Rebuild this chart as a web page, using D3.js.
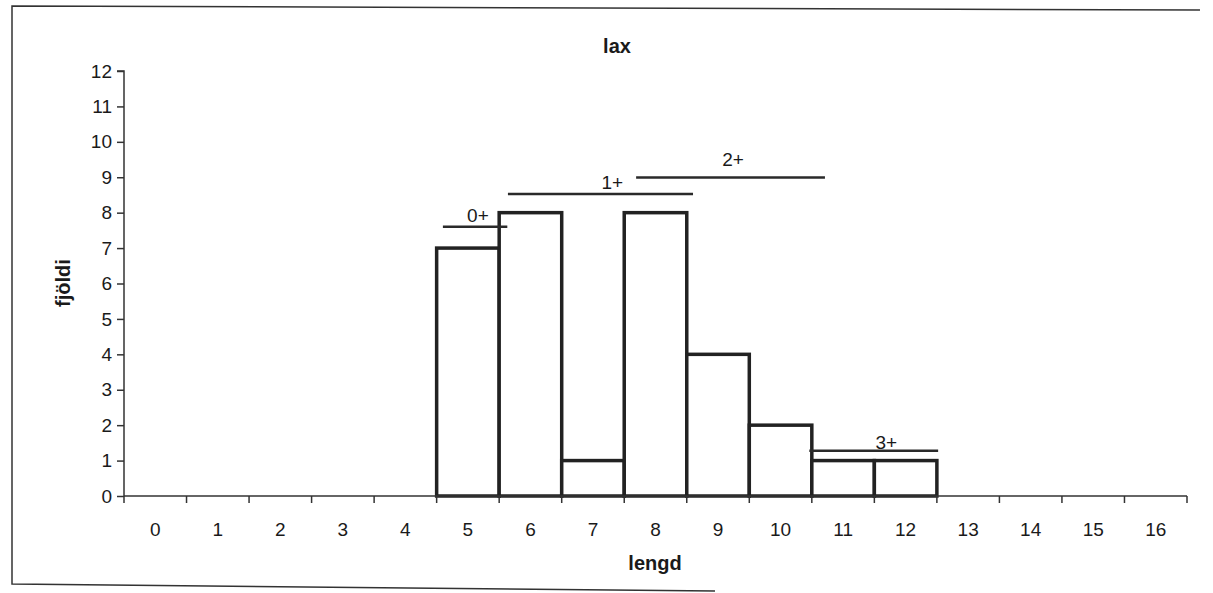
<!DOCTYPE html>
<html>
<head>
<meta charset="utf-8">
<script src="https://cdn.jsdelivr.net/npm/d3@7"></script>
<style>
  html, body { margin: 0; padding: 0; background: #fff; }
  svg { display: block; }
  text { font-family: "Liberation Sans", Arial, sans-serif; fill: #1a1a1a; }
</style>
</head>
<body>
<svg id="chart" width="1213" height="593"></svg>
<script>
// ---- data ----
const categories = [0,1,2,3,4,5,6,7,8,9,10,11,12,13,14,15,16];
const counts     = [0,0,0,0,0,7,8,1,8,4,2,1,1,0,0,0,0];
const yTicks     = [0,1,2,3,4,5,6,7,8,9,10,11,12];
const title      = "lax";
const xTitle     = "lengd";
const yTitle     = "fjöldi";
// age-group annotations (in category units / count units)
const ageLabels  = ["0+", "1+", "2+", "3+"];
const ageStart   = [4.6, 5.64, 7.69, 10.46];
const ageEnd     = [5.63, 8.6, 10.71, 12.52];
const ageLevel   = [7.6, 8.53, 8.99, 1.28];
const ageLabelX  = [5.16, 7.31, 9.24, 11.69];
const ageLabelY  = [7.74, 8.68, 9.33, 1.33];

// ---- layout ----
const svg = d3.select("#chart");
const x0 = 124, x1 = 1187, yBottom = 496, yTop = 71;
const fs = 19;

const x = d3.scaleBand().domain(categories).range([x0, x1]).padding(0);
const y = d3.scaleLinear().domain([0, 12]).range([yBottom, yTop]);
const xc = d3.scaleLinear().domain([0, 1]).range([x0 + x.bandwidth()/2, x0 + x.bandwidth()*1.5]);

// outer frame (scanned document border: top, left, partial bottom)
svg.append("path")
  .attr("d", "M1200,10 L12,6 L12,584 L715,591")
  .attr("fill", "none").attr("stroke", "#333").attr("stroke-width", 1.5);

// bars
const data = categories.map((c, i) => ({c, v: counts[i]})).filter(d => d.v > 0);
svg.append("g").selectAll("rect").data(data).join("rect")
  .attr("x", d => x(d.c))
  .attr("y", d => y(d.v))
  .attr("width", x.bandwidth())
  .attr("height", d => y(0) - y(d.v))
  .attr("fill", "#fff")
  .attr("stroke", "#222")
  .attr("stroke-width", 3.5);

// y axis
const yAxis = svg.append("g").attr("transform", `translate(${x0},0)`)
  .call(d3.axisLeft(y).tickValues(yTicks).tickFormat(d3.format("d")).tickSize(7).tickPadding(5));
yAxis.select(".domain").attr("stroke", "#333").attr("stroke-width", 1.5).attr("d", `M-7,${yTop}H0V${yBottom}`);
yAxis.selectAll(".tick line").attr("stroke", "#333").attr("stroke-width", 1.5);
yAxis.selectAll(".tick text").attr("font-size", fs).attr("fill", "#1a1a1a")
  .style("font-family", "'Liberation Sans', Arial, sans-serif");

// x axis: ticks at category boundaries
const bounds = categories.map(c => x(c)).concat([x1]);
const xAxisG = svg.append("g");
xAxisG.append("line").attr("x1", x0).attr("x2", x1).attr("y1", yBottom).attr("y2", yBottom)
  .attr("stroke", "#333").attr("stroke-width", 1.5);
xAxisG.selectAll("line.tk").data(bounds).join("line").attr("class", "tk")
  .attr("x1", d => d).attr("x2", d => d).attr("y1", yBottom).attr("y2", yBottom + 7)
  .attr("stroke", "#333").attr("stroke-width", 1.5);
xAxisG.selectAll("text").data(categories).join("text")
  .attr("x", d => x(d) + x.bandwidth()/2)
  .attr("y", 536)
  .attr("text-anchor", "middle")
  .attr("font-size", fs)
  .text(d => d);

// annotations
const ann = svg.append("g");
ageLabels.forEach((lab, i) => {
  ann.append("line")
    .attr("x1", xc(ageStart[i])).attr("x2", xc(ageEnd[i]))
    .attr("y1", y(ageLevel[i])).attr("y2", y(ageLevel[i]))
    .attr("stroke", "#2a2a2a").attr("stroke-width", 2.5);
  ann.append("text")
    .attr("x", xc(ageLabelX[i])).attr("y", y(ageLabelY[i]))
    .attr("text-anchor", "middle").attr("font-size", fs)
    .text(lab);
});

// titles
svg.append("text").attr("x", 617).attr("y", 53).attr("text-anchor", "middle")
  .attr("font-size", 20).attr("font-weight", "bold").text(title);
svg.append("text").attr("x", 655).attr("y", 570).attr("text-anchor", "middle")
  .attr("font-size", 20).attr("font-weight", "bold").text(xTitle);
svg.append("text").attr("transform", "translate(70,283) rotate(-90)").attr("text-anchor", "middle")
  .attr("font-size", 20).attr("font-weight", "bold").text(yTitle);
</script>
</body>
</html>
